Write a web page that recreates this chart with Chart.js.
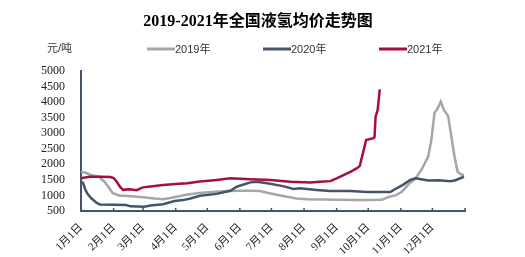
<!DOCTYPE html>
<html>
<head>
<meta charset="utf-8">
<script src="https://cdn.jsdelivr.net/npm/chart.js@4.4.0/dist/chart.umd.min.js"></script>
<style>
html,body{margin:0;padding:0;background:#fff;}
#wrap{width:525px;height:257px;position:relative;}
</style>
</head>
<body>
<div id="wrap"><canvas id="c" width="525" height="257"></canvas></div>
<script>
// Month-start positions (day of year) and their labels
const monthDays = [0,31,59,90,120,151,181,212,243,273,304,334];
const monthLabels = ["1月1日","2月1日","3月1日","4月1日","5月1日","6月1日","7月1日","8月1日","9月1日","10月1日","11月1日","12月1日"];
const yTicks = [500,1000,1500,2000,2500,3000,3500,4000,4500,5000];
const chartTitle = '2019-2021年全国液氢均价走势图';
const unitLabel = '元/吨';

// 2019
const days2019 = [0,5,10,17,22,26,30,36,45,59,70,78,85,91,100,112,128,140,150,160,170,178,192,205,215,230,245,260,275,286,292,299,305,312,318,324,330,333,336,339,342,345,349,352,355,358,361,364];
const vals2019 = [1760,1720,1650,1600,1450,1280,1080,1000,980,940,900,880,920,960,1020,1080,1120,1140,1150,1150,1140,1080,980,900,880,870,860,850,850,860,950,1000,1120,1380,1550,1850,2250,2780,3650,3800,4020,3750,3550,2900,2250,1760,1680,1660];

// 2020
const days2020 = [0,2,4,6,10,15,18,30,43,47,60,66,78,89,97,104,113,129,142,148,161,167,177,192,202,208,224,237,256,272,294,300,306,313,318,330,340,351,356,364];
const vals2020 = [1450,1400,1200,1060,900,760,710,700,690,650,640,680,720,820,850,900,990,1050,1150,1280,1420,1440,1390,1300,1210,1230,1175,1140,1140,1110,1110,1230,1340,1500,1550,1480,1490,1460,1490,1600];

// 2021
const days2021 = [0,8,20,28,31,34,37,40,46,53,56,59,66,78,90,101,113,129,142,161,180,199,218,227,237,243,246,256,262,265,268,271,278,279,280,282,284];
const vals2021 = [1550,1600,1600,1590,1560,1440,1280,1180,1200,1170,1220,1260,1290,1335,1370,1390,1450,1500,1550,1520,1500,1440,1420,1440,1460,1550,1600,1760,1870,1950,2360,2780,2840,2870,3530,3750,4410];

const seriesNames = ["2019年","2020年","2021年"];
const seriesColors = ["#a6a6a6","#44546a","#a50f3a"];

function pts(d, v){ return d.map((x,i)=>({x:x,y:v[i]})); }

const cjkSerif = '"Liberation Serif","Noto Sans CJK SC",serif';
const cjkSans = '"Liberation Sans","Noto Sans CJK SC",sans-serif';

const legendPlugin = {
  id:'customLegend',
  afterDraw(chart){
    const ctx = chart.ctx;
    ctx.save();
    // title
    ctx.font = 'bold 16px ' + cjkSerif;
    ctx.fillStyle = '#000';
    ctx.textAlign = 'center';
    ctx.textBaseline = 'middle';
    ctx.fillText(chartTitle, 258, 22);
    // unit + legend
    ctx.font = '11px ' + cjkSans;
    ctx.fillStyle = '#333';
    ctx.textAlign = 'left';
    ctx.fillText(unitLabel, 47, 49);
    chart.data.datasets.forEach((ds,i)=>{
      const x0 = 147 + i*116;
      ctx.strokeStyle = ds.borderColor;
      ctx.lineWidth = 3;
      ctx.beginPath(); ctx.moveTo(x0,49); ctx.lineTo(x0+28,49); ctx.stroke();
      ctx.fillStyle = '#333';
      ctx.fillText(ds.label, x0+28, 49.5);
    });
    // inward tick marks on x axis
    const xs = chart.scales.x;
    ctx.strokeStyle = '#44546a';
    ctx.lineWidth = 1.5;
    const yb = xs.top;
    [...monthDays, 365].forEach(d=>{
      const px = xs.getPixelForValue(d);
      ctx.beginPath(); ctx.moveTo(px, yb); ctx.lineTo(px, yb-3); ctx.stroke();
    });
    ctx.restore();
  }
};

new Chart(document.getElementById('c'), {
  type:'line',
  data:{
    datasets:[
      {label:seriesNames[0], data:pts(days2019, vals2019), borderColor:seriesColors[0], backgroundColor:seriesColors[0], borderWidth:2.5, pointRadius:0, tension:0, order:3},
      {label:seriesNames[1], data:pts(days2020, vals2020), borderColor:seriesColors[1], backgroundColor:seriesColors[1], borderWidth:2.5, pointRadius:0, tension:0, order:2},
      {label:seriesNames[2], data:pts(days2021, vals2021), borderColor:seriesColors[2], backgroundColor:seriesColors[2], borderWidth:2.5, pointRadius:0, tension:0, order:1}
    ]
  },
  options:{
    responsive:false,
    animation:false,
    layout:{padding:{left:0,right:60,top:71,bottom:0}},
    plugins:{
      legend:{display:false},
      tooltip:{enabled:false},
      title:{display:false}
    },
    scales:{
      x:{type:'linear', min:0, max:365,
        afterBuildTicks(s){ s.ticks = monthDays.map(v=>({value:v})); },
        afterFit(s){ s.height = 46; },
        grid:{display:false},
        border:{display:true, color:'#44546a', width:2},
        ticks:{autoSkip:false, minRotation:45, maxRotation:45, color:'#222', padding:2,
          font:{family:cjkSerif, size:11},
          callback(v){ const i = monthDays.indexOf(v); return i>=0 ? monthLabels[i] : ''; }}
      },
      y:{min:500, max:5000,
        afterBuildTicks(s){ s.ticks = yTicks.map(v=>({value:v})); },
        afterFit(s){ s.width = 81; },
        grid:{display:false},
        border:{display:true, color:'#44546a', width:2},
        ticks:{autoSkip:false, color:'#222', padding:8, font:{family:cjkSerif, size:12},
          callback(v){ return String(v); }}
      }
    }
  },
  plugins:[legendPlugin]
});
</script>
</body>
</html>
